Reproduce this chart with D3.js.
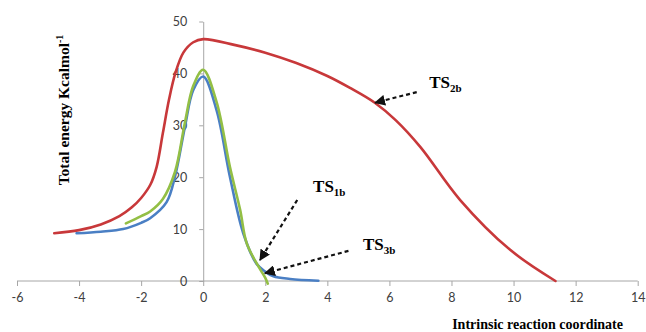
<!DOCTYPE html>
<meta charset="utf-8">
<style>
body { margin: 0; background: #fff; }
.axis path, .axis line { stroke: #a6a6a6; stroke-width: 1; }
.axis text { font-family: Lato, "Open Sans", sans-serif; font-size: 12.5px; fill: #404040; }
.title { font-family: "Liberation Serif", "DejaVu Serif", serif; font-weight: bold; fill: #000; }
.series { fill: none; stroke-width: 2.6; stroke-linejoin: round; stroke-linecap: round; }
.arrow { stroke: #111; stroke-width: 2.2; stroke-dasharray: 4 3; fill: none; }
</style>
<svg width="646" height="332"></svg>
<script src="https://cdn.jsdelivr.net/npm/d3@7"></script>
<script>

var svg = d3.select("svg");

// reaction coordinate / energy (kcal/mol)
var redX = [-4.8, -4, -3.3, -2.7, -2.3, -2.0, -1.7, -1.5, -1.3, -1.1, -0.9, -0.64, -0.32, 0, 1, 2, 3, 4, 4.73, 5.54, 6.2, 7, 8.28, 9.89, 11.35];
var redY = [9.2, 9.8, 10.9, 12.5, 14.2, 16, 18.6, 22, 28.5, 35, 40, 44, 46, 46.6, 45.5, 44, 42, 39.5, 37.2, 34.3, 31, 25.8, 15.6, 6.0, 0];

var blueX = [-4.08, -3.3, -2.58, -2.0, -1.71, -1.18, -0.91, -0.59, -0.32, 0, 0.43, 0.86, 1.29, 1.72, 2.0, 2.26, 2.8, 3.71];
var blueY = [9.2, 9.5, 10.0, 11.2, 12.1, 15.2, 20.1, 29.7, 36.8, 39.4, 32.9, 20.1, 9.2, 3.3, 1.8, 0.9, 0.4, 0.05];

var greenX = [-2.49, -2.0, -1.71, -1.3, -0.91, -0.59, -0.32, 0, 0.43, 0.86, 1.19, 1.4, 1.78, 2.0, 2.08];
var greenY = [11.1, 12.5, 13.4, 15.8, 21, 30.5, 37.6, 40.7, 34.5, 22, 13.7, 7.3, 2.8, 0.6, -0.5];

var xTicks = [-6, -4, -2, 0, 2, 4, 6, 8, 10, 12, 14];
var yTicks = [0, 10, 20, 30, 40, 50];

// transition-state annotations: label anchor, arrow tail, arrow tip (data units)
var tsNames = ["1b", "3b", "2b"];
var tsLabel = [[3.54, 17.1], [5.15, 6.0], [7.28, 37.2]];
var tsTail = [[3.03, 15.6], [4.68, 5.8], [6.88, 36.4]];
var tsTip = [[1.83, 4.05], [1.99, 1.5], [5.54, 34.35]];

var x = d3.scaleLinear().domain([-6, 14]).range([17, 637.7]);
var y = d3.scaleLinear().domain([0, 50]).range([281, 21.5]);

svg.append("g")
    .attr("class", "axis")
    .attr("transform", "translate(0," + y(0) + ")")
    .call(d3.axisBottom(x).tickValues(xTicks).tickFormat(function(d) { return String(d); })
        .tickSize(5).tickPadding(7).tickSizeOuter(0))
    .call(function(g) { g.select(".domain").attr("d", "M" + x(-6) + ",0H" + x(14)); });

svg.append("g")
    .attr("class", "axis")
    .attr("transform", "translate(" + x(0) + ",0)")
    .call(d3.axisLeft(y).tickValues(yTicks).tickFormat(function(d) { return String(d); })
        .tickSize(4).tickPadding(12).tickSizeOuter(0));

var line = d3.line()
    .x(function(d) { return x(d[0]); })
    .y(function(d) { return y(d[1]); })
    .curve(d3.curveCatmullRom.alpha(0.5));

var series = [
  {xs: redX, ys: redY, color: "#c8383a"},
  {xs: blueX, ys: blueY, color: "#4a7fc4"},
  {xs: greenX, ys: greenY, color: "#93bf45"}
];

series.forEach(function(s) {
  svg.append("path")
      .attr("class", "series")
      .attr("stroke", s.color)
      .attr("d", line(d3.zip(s.xs, s.ys)));
});

svg.append("defs").append("marker")
    .attr("id", "head")
    .attr("viewBox", "0 0 10 10")
    .attr("refX", 9).attr("refY", 5)
    .attr("markerWidth", 5).attr("markerHeight", 5)
    .attr("markerUnits", "strokeWidth")
    .attr("orient", "auto")
  .append("path")
    .attr("d", "M0,0L10,5L0,10z")
    .attr("fill", "#111");

tsNames.forEach(function(n, i) {
  svg.append("line")
      .attr("class", "arrow")
      .attr("x1", x(tsTail[i][0])).attr("y1", y(tsTail[i][1]))
      .attr("x2", x(tsTip[i][0])).attr("y2", y(tsTip[i][1]))
      .attr("marker-end", "url(#head)");
  var t = svg.append("text")
      .attr("class", "title")
      .attr("x", x(tsLabel[i][0]))
      .attr("y", y(tsLabel[i][1]))
      .style("font-size", "17px")
      .text("TS");
  t.append("tspan")
      .attr("dy", 4)
      .style("font-size", "11px")
      .text(n);
});

var yt = svg.append("text")
    .attr("class", "title")
    .attr("transform", "translate(69,110) rotate(-90)")
    .attr("text-anchor", "middle")
    .style("font-size", "15.5px")
    .text("Total energy Kcalmol");
yt.append("tspan")
    .attr("dy", -6)
    .style("font-size", "10px")
    .text("-1");

svg.append("text")
    .attr("class", "title")
    .attr("x", 623)
    .attr("y", 329)
    .attr("text-anchor", "end")
    .style("font-size", "14px")
    .text("Intrinsic reaction coordinate");

</script>
